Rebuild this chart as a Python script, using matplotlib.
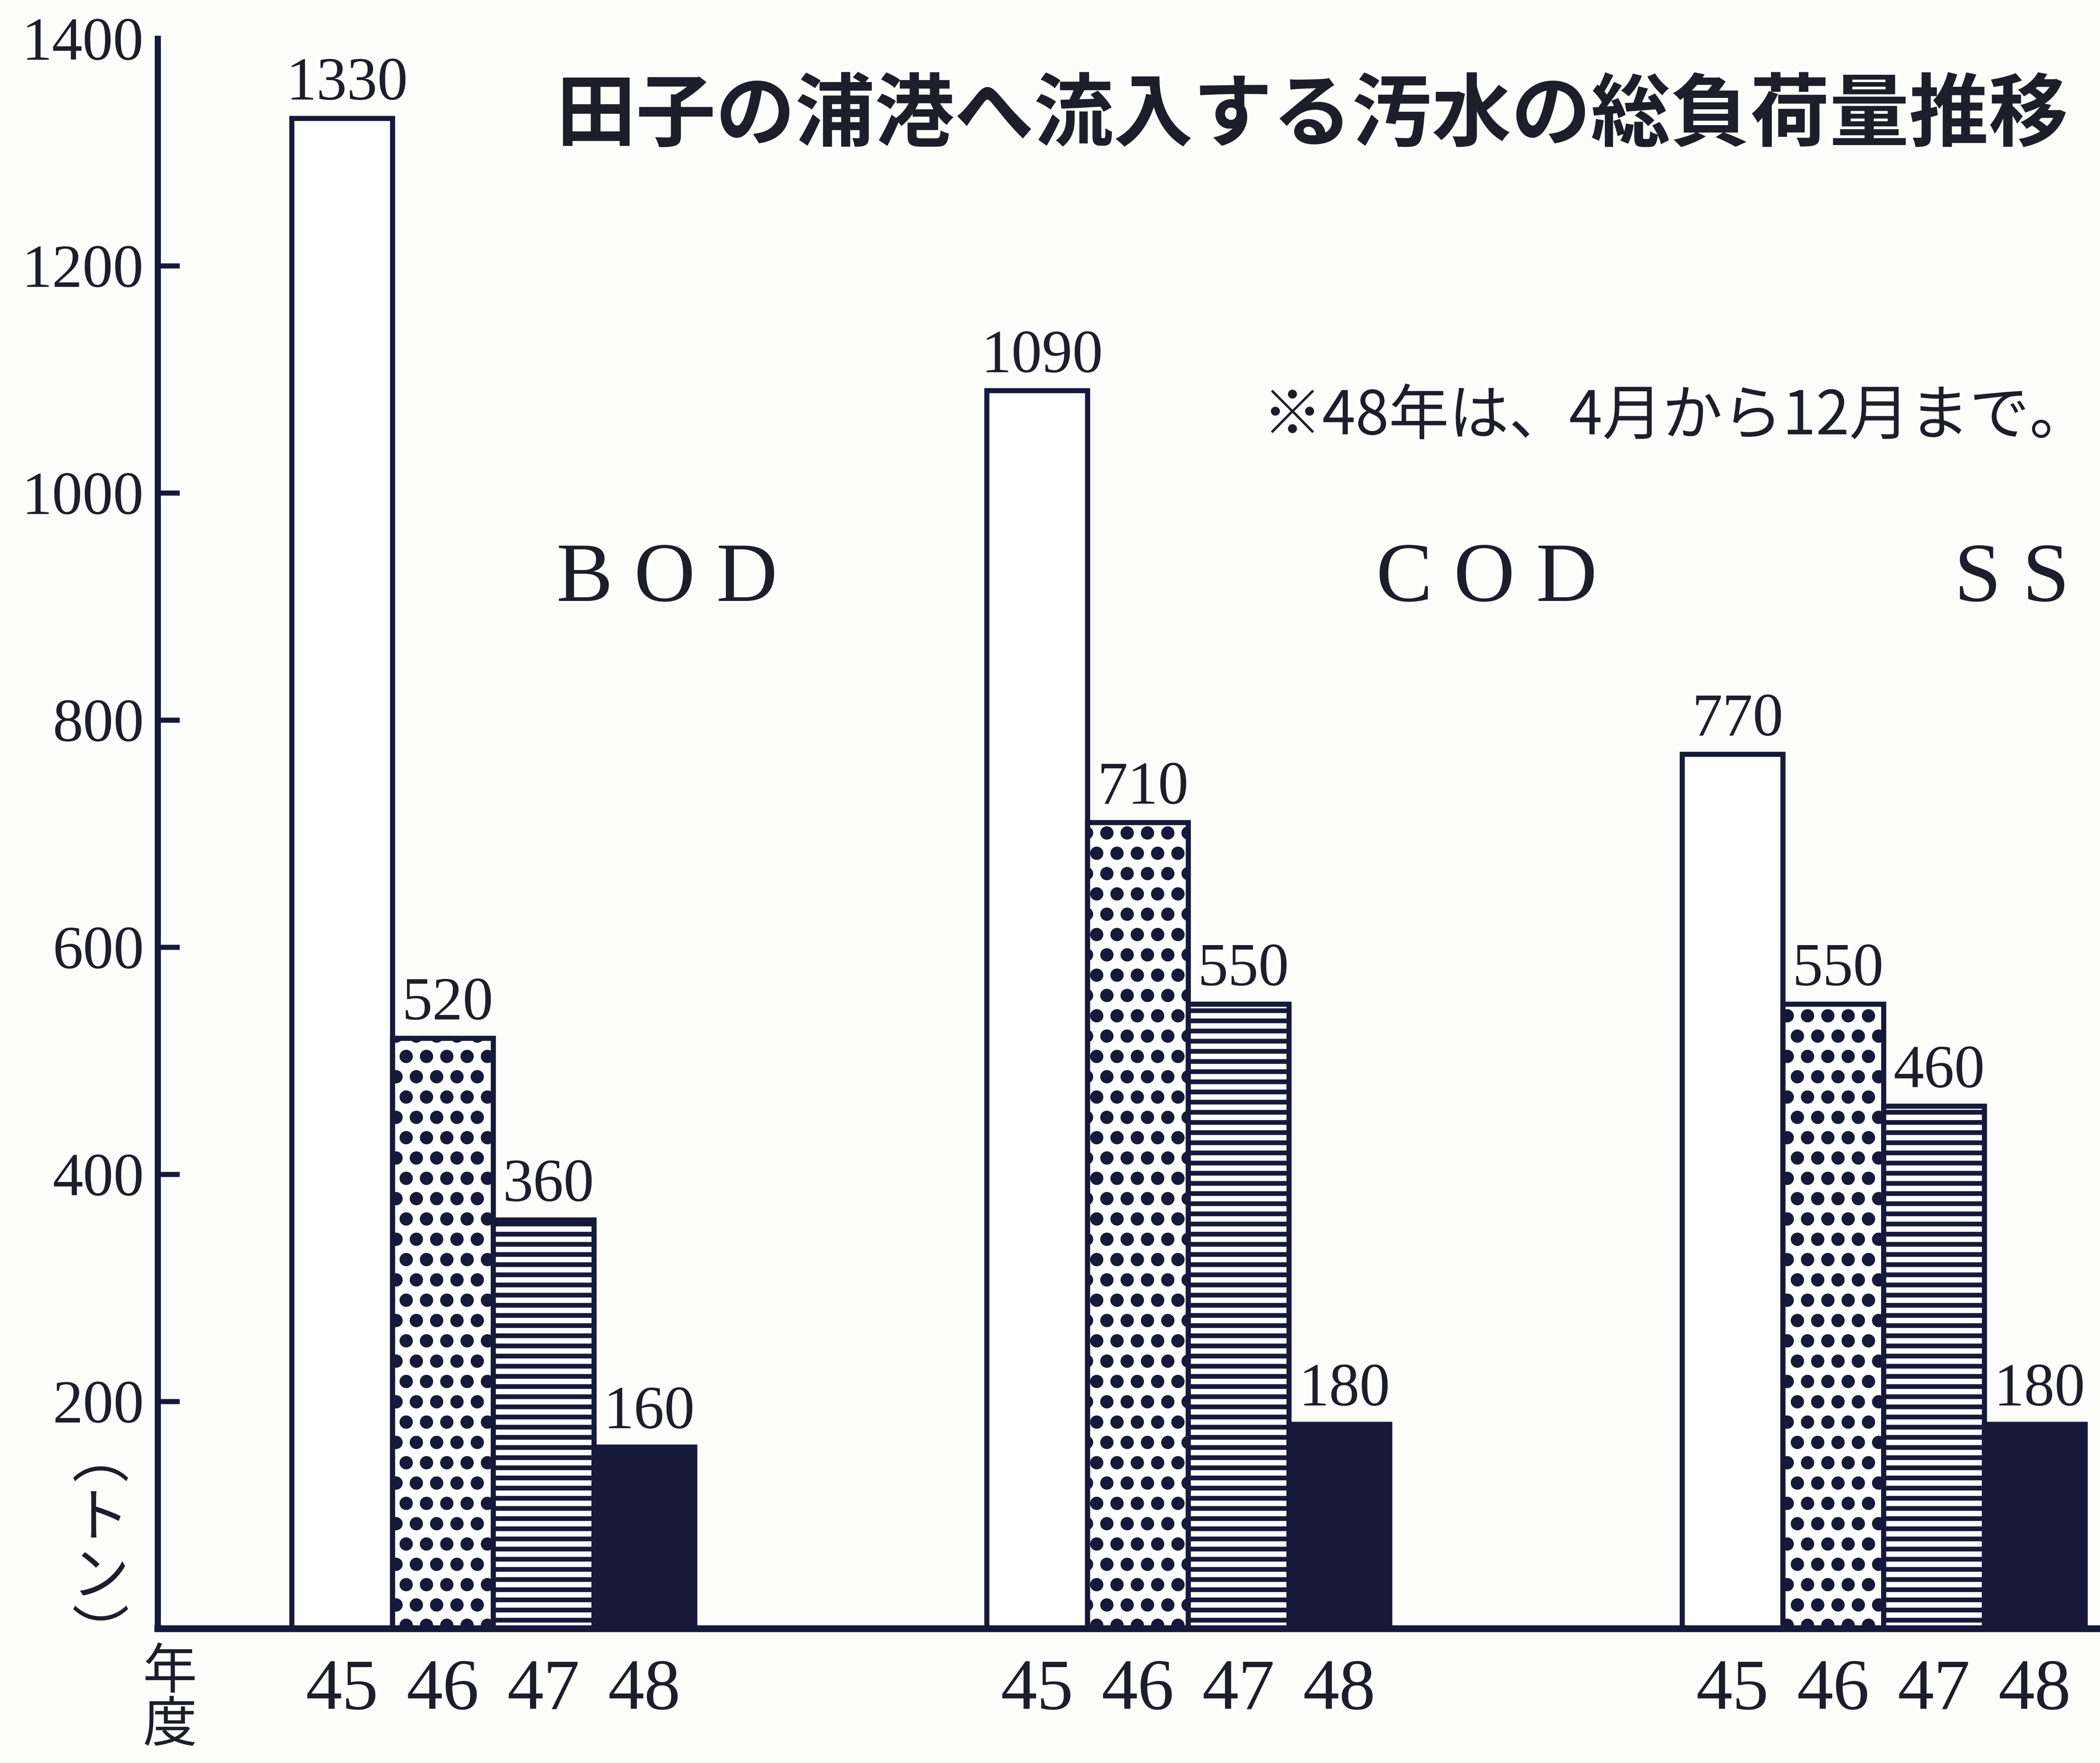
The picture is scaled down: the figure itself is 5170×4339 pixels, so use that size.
import matplotlib
matplotlib.use('Agg')
import matplotlib.pyplot as plt
import matplotlib.hatch


_INK = '#17193a'
_TEXT = '#1e1e2a'
_BG = '#fcfcfa'
_SERIF = 'Liberation Serif'
_CJK = ['Noto Sans CJK JP', 'DejaVu Sans']

TITLE = '田子の浦港へ流入する汚水の総負荷量推移'
NOTE = '※48年は、4月から12月まで。'
GROUPS = ['B O D', 'C O D', 'S S']
YEARS = ['45', '46', '47', '48']
BOD = [1330, 520, 360, 160]
COD = [1090, 710, 550, 180]
SS = [770, 550, 460, 180]
Y_TICKS = [200, 400, 600, 800, 1000, 1200, 1400]
Y_UNIT = '︵\nト\nン\n︶'
X_UNIT = '年\n度'

# bigger dots for the '.' hatch (printed screen tone)
matplotlib.hatch.SmallFilledCircles.size = 0.21
plt.rcParams['hatch.linewidth'] = 2.8

GROUP_STEP = 6.9


def main():
    fig = plt.figure(figsize=(5170 / 300, 4339 / 300), dpi=300, facecolor=_BG)
    ax = fig.add_axes([0.075, 0.0763, 0.925, 0.9018])
    ax.set_facecolor('none')

    styles = [
        dict(color='white', hatch=None),
        dict(color='white', hatch='.'),
        dict(color='white', hatch='--'),
        dict(color=_INK, hatch=None),
    ]

    centers = []
    for g, vals in enumerate([BOD, COD, SS]):
        for j, v in enumerate(vals):
            x = g * GROUP_STEP + j
            st = styles[j]
            ax.bar(x, v, width=1, align='edge', facecolor=st['color'],
                   hatch=st['hatch'], edgecolor=_INK, linewidth=3.0, zorder=2)
            ax.annotate(str(v), (x + 0.5, v), xytext=(3, 11),
                        textcoords='offset points', ha='center', va='baseline',
                        fontsize=36, family=_SERIF, color=_TEXT,
                        annotation_clip=False)
            centers.append(x + 0.5)

    ax.set_xlim(-1.331, 17.95)
    ax.set_ylim(0, 1400)

    ax.set_xticks(centers)
    ax.set_xticklabels(YEARS * 3, family=_SERIF, fontsize=43, color=_TEXT)
    ax.tick_params(axis='x', length=0, pad=18)

    ax.set_yticks(Y_TICKS)
    ax.set_yticklabels([str(t) for t in Y_TICKS], family=_SERIF, fontsize=36,
                       color=_TEXT)
    ax.tick_params(axis='y', direction='in', length=13, width=3, color=_INK,
                   pad=8)
    ax.yaxis.get_major_ticks()[-1].tick1line.set_visible(False)

    for side in ['top', 'right']:
        ax.spines[side].set_visible(False)
    ax.spines['left'].set_linewidth(3.6)
    ax.spines['left'].set_color(_INK)
    ax.spines['bottom'].set_linewidth(4.0)
    ax.spines['bottom'].set_color(_INK)
    ax.spines['bottom'].set_zorder(3)

    fig.text(0.625, 0.934, TITLE, ha='center', va='center', fontsize=47,
             weight='bold', family=_CJK, color=_TEXT)
    fig.text(0.601, 0.7633, NOTE, ha='left', va='center', fontsize=35.5,
             family=_CJK, color=_TEXT)

    for label, xpos in zip(GROUPS, [0.3176, 0.708, 0.958]):
        fig.text(xpos, 0.6707, label, ha='center', va='center', fontsize=50,
                 family=_SERIF, color=_TEXT)

    fig.text(0.0478, 0.1215, Y_UNIT, ha='center', va='center', fontsize=34,
             family=_CJK, color=_TEXT, linespacing=1.0, multialignment='center')
    fig.text(0.081, 0.036, X_UNIT, ha='center', va='center', fontsize=32,
             family=_CJK, color=_TEXT, linespacing=0.95,
             multialignment='center')

    fig.savefig('out.png', dpi=300, facecolor=_BG)


if __name__ == '__main__':
    main()
